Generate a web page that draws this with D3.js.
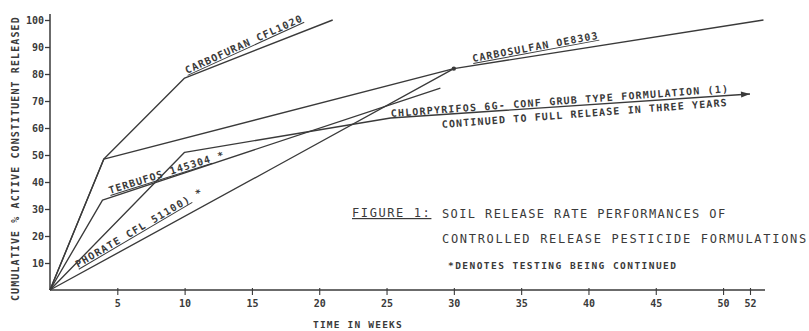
<!DOCTYPE html>
<html>
<head>
<meta charset="utf-8">
<script src="https://cdn.jsdelivr.net/npm/d3@7"></script>
<style>
  html, body { margin: 0; padding: 0; background: #fff; }
  svg text { font-family: "DejaVu Sans Mono", "Liberation Mono", monospace; fill: #3a3a3a; }
</style>
</head>
<body>
<svg id="chart" width="809" height="331"></svg>
<script>
// ---- data ----
const xTicks = [5, 10, 15, 20, 25, 30, 35, 40, 45, 50, 52];
const yTicks = [10, 20, 30, 40, 50, 60, 70, 80, 90, 100];

const carbofuranWeeks = [0, 4, 10, 21];
const carbofuranPct   = [0, 48.5, 78.5, 100];

const carbosulfanWeeks = [0, 4, 30, 53];
const carbosulfanPct   = [0, 48.5, 82, 100];

const chlorpyrifosWeeks = [0, 10, 25.3, 52];
const chlorpyrifosPct   = [0, 51, 63.7, 72.6];

const terbufosWeeks = [0, 3.9, 29];
const terbufosPct   = [0, 33.3, 74.8];

const phorateWeeks = [0, 16.5, 30];
const phoratePct   = [0, 45, 82];

const seriesNames = [
  "CARBOFURAN CFL1020",
  "CARBOSULFAN OE8303",
  "CHLORPYRIFOS 6G- CONF GRUB TYPE FORMULATION (1)",
  "TERBUFOS 145304",
  "PHORATE CFL 51100)"
];
const continuedMark = [false, false, false, true, true];

// ---- chart ----
const svg = d3.select("#chart");
const ink = "#3a3a3a";
const x = d3.scaleLinear().domain([0, 52]).range([50, 750]);
const y = d3.scaleLinear().domain([0, 100]).range([290, 20]);

function pts(xs, ys) { return xs.map((d, i) => [d, ys[i]]); }
const series = [
  pts(carbofuranWeeks, carbofuranPct),
  pts(carbosulfanWeeks, carbosulfanPct),
  pts(chlorpyrifosWeeks, chlorpyrifosPct),
  pts(terbufosWeeks, terbufosPct),
  pts(phorateWeeks, phoratePct)
];

// axes lines
svg.append("line").attr("x1", x(0)).attr("x2", 765).attr("y1", y(0)).attr("y2", y(0))
  .attr("stroke", ink).attr("stroke-width", 1.5);
svg.append("line").attr("x1", x(0)).attr("x2", x(0)).attr("y1", y(0)).attr("y2", 14)
  .attr("stroke", ink).attr("stroke-width", 1.5);

const yAxis = svg.append("g").attr("transform", `translate(${x(0)},0)`)
  .call(d3.axisLeft(y).tickValues(yTicks).tickSize(5).tickPadding(1).tickSizeOuter(0));
yAxis.select(".domain").remove();
yAxis.selectAll(".tick line").attr("stroke", ink).attr("stroke-width", 1.3);
yAxis.selectAll(".tick text").attr("font-size", 10).attr("font-weight", "bold")
  .style("font-family", "DejaVu Sans Mono").attr("fill", ink);

const xAxis = svg.append("g").attr("transform", `translate(0,${y(0) - 2})`)
  .call(d3.axisBottom(x).tickValues(xTicks).tickSize(7).tickPadding(5).tickSizeOuter(0)
    .tickFormat(d3.format("d")));
xAxis.select(".domain").remove();
xAxis.selectAll(".tick line").attr("stroke", ink).attr("stroke-width", 1.1);
xAxis.selectAll(".tick text").attr("font-size", 10).attr("font-weight", "bold")
  .style("font-family", "DejaVu Sans Mono").attr("fill", ink);

// lines
const line = d3.line().x(d => x(d[0])).y(d => y(d[1]));
svg.append("g").selectAll("path").data(series).join("path")
  .attr("d", line).attr("fill", "none").attr("stroke", ink)
  .attr("stroke-width", 1.35).attr("stroke-linejoin", "round");

// arrow at chlorpyrifos end
const cp = series[2];
const pA = cp[cp.length - 2], pB = cp[cp.length - 1];
const ang = Math.atan2(y(pB[1]) - y(pA[1]), x(pB[0]) - x(pA[0]));
const ax = x(pB[0]), ay = y(pB[1]);
svg.append("path")
  .attr("d", `M${ax},${ay} L${ax - 9 * Math.cos(ang) - 3 * Math.sin(ang)},${ay - 9 * Math.sin(ang) + 3 * Math.cos(ang)} L${ax - 9 * Math.cos(ang) + 3 * Math.sin(ang)},${ay - 9 * Math.sin(ang) - 3 * Math.cos(ang)} Z`)
  .attr("fill", ink);

// dot at carbosulfan 30 weeks
svg.append("circle").attr("cx", x(carbosulfanWeeks[2])).attr("cy", y(carbosulfanPct[2]))
  .attr("r", 2.2).attr("fill", ink);

// labels along segments
function alongLabel(text, px, py, angle, size, spacing, underline, star) {
  const t = svg.append("text")
    .attr("transform", `translate(${px},${py}) rotate(${angle})`)
    .attr("font-size", size).attr("font-weight", "bold")
    .attr("letter-spacing", spacing);
  const main = t.append("tspan").text(text);
  if (underline) main.attr("text-decoration", "underline");
  if (star) t.append("tspan").text(" *");
  return t;
}
alongLabel(seriesNames[0], 187, 74, -24.5, 10, 1.1, true, continuedMark[0]);
alongLabel(seriesNames[1], 473, 62, -10.5, 10, 1.1, true, continuedMark[1]);
alongLabel(seriesNames[2], 391, 117, -4.2, 10, 1.2, false, continuedMark[2]);
alongLabel("CONTINUED TO FULL RELEASE IN THREE YEARS", 442, 128, -4.4, 10, 1.15, false, false);
alongLabel(seriesNames[3], 110, 194, -17.5, 10, 1.1, true, continuedMark[3]);
alongLabel(seriesNames[4], 78, 268, -30.5, 10, 1.3, true, continuedMark[4]);

// figure caption
svg.append("text").attr("x", 352).attr("y", 217).attr("font-size", 12).attr("letter-spacing", 1.6)
  .attr("text-decoration", "underline").text("FIGURE 1:");
svg.append("text").attr("x", 442).attr("y", 218).attr("font-size", 12).attr("letter-spacing", 1.4)
  .text("SOIL RELEASE RATE PERFORMANCES OF");
svg.append("text").attr("x", 442).attr("y", 243).attr("font-size", 12).attr("letter-spacing", 1.7)
  .text("CONTROLLED RELEASE PESTICIDE FORMULATIONS");
svg.append("text").attr("x", 448).attr("y", 269).attr("font-size", 9.5).attr("letter-spacing", 1.45)
  .attr("font-weight", "bold").text("*DENOTES TESTING BEING CONTINUED");

// axis titles
svg.append("text").attr("x", 313).attr("y", 328).attr("font-size", 9.5).attr("letter-spacing", 1.2)
  .attr("font-weight", "bold").text("TIME IN WEEKS");
svg.append("text").attr("transform", "translate(19,301) rotate(-90)")
  .attr("font-size", 10).attr("letter-spacing", 1.1).attr("font-weight", "bold")
  .text("CUMULATIVE % ACTIVE CONSTITUENT RELEASED");
</script>
</body>
</html>
